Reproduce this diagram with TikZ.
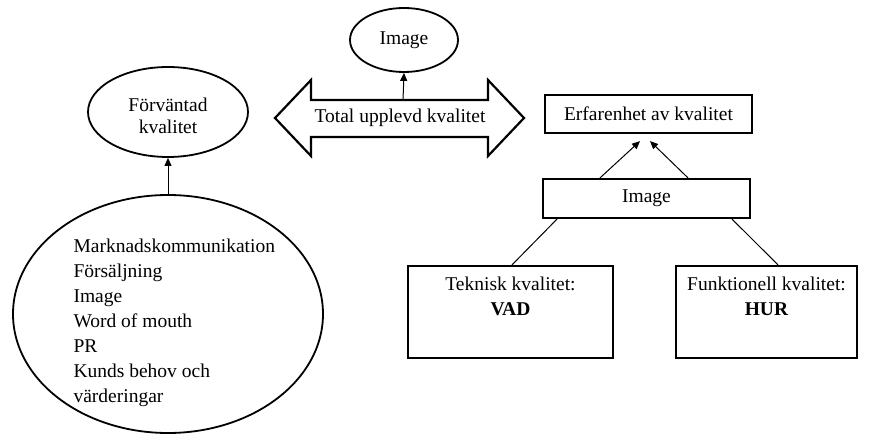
\documentclass[tikz,border=0pt]{standalone}
\usepackage{fontspec}
\setmainfont{Liberation Serif}
\usetikzlibrary{shapes.geometric,arrows.meta}
\begin{document}
\begin{tikzpicture}[x=1pt,y=-1pt,
  every node/.style={font=\fontsize{19.5}{25}\selectfont},
  oval/.style={ellipse,draw,line width=1.8pt,inner sep=0pt},
  frame/.style={draw,line width=2.2pt,inner sep=0pt},
  link/.style={line width=1pt},
  arr/.style={link,-{Triangle[length=8pt,width=7pt]}}
]
\useasboundingbox (0,0) rectangle (870,435);

% left side: expected quality and its sources
\node[oval,minimum width=108pt,minimum height=64pt] (img) at (404,40) {Image};
\node[oval,minimum width=160pt,minimum height=90pt] (exp) at (168,112) {};
\node[align=center,font=\fontsize{19.5}{22}\selectfont] (exptxt) at (168,116) {Förväntad\\kvalitet};
\node[oval,minimum width=310pt,minimum height=238pt] (src) at (168,314) {};
\node[anchor=west,align=left] (srclist) at (70,322.5) {Marknadskommunikation\\Försäljning\\Image\\Word of mouth\\PR\\Kunds behov och\\värderingar};
\draw[arr] (src.north) -- (exp.south);

% total perceived quality, drawn as a double arrow
\draw[line width=2.2pt,line join=miter] (275,118) -- (311,80) -- (311,100) -- (488,100) -- (488,80) -- (524,118) -- (488,156) -- (488,137) -- (311,137) -- (311,156) -- cycle;
\node (total) at (400,118) {Total upplevd kvalitet};
\coordinate (totaltop) at (403,100);
\draw[arr] (totaltop) -- (img.south);

% right side: experienced quality
\node[frame,minimum width=207pt,minimum height=38pt] (erf) at (648.5,114) {Erfarenhet av kvalitet};
\node[frame,minimum width=207pt,minimum height=39pt] (imgbox) at (646.5,198.5) {Image};
\node[frame,minimum width=205pt,minimum height=92pt] (tek) at (510.5,312) {};
\node[align=center] (tektxt) at (510.5,296) {Teknisk kvalitet:\\\textbf{VAD}};
\node[frame,minimum width=181pt,minimum height=92pt] (fun) at (766.5,312) {};
\node[align=center] (funtxt) at (766.5,296) {Funktionell kvalitet:\\\textbf{HUR}};

\draw[arr] ([xshift=-46.5pt]imgbox.north) -- ([xshift=-8.5pt,yshift=-7pt]erf.south);
\draw[arr] ([xshift=41.5pt]imgbox.north) -- ([xshift=1.5pt,yshift=-7pt]erf.south);
\draw[link] ([xshift=-89.5pt]imgbox.south) -- ([xshift=1.5pt]tek.north);
\draw[link] ([xshift=85.5pt]imgbox.south) -- ([xshift=11.5pt]fun.north);
\end{tikzpicture}
\end{document}
